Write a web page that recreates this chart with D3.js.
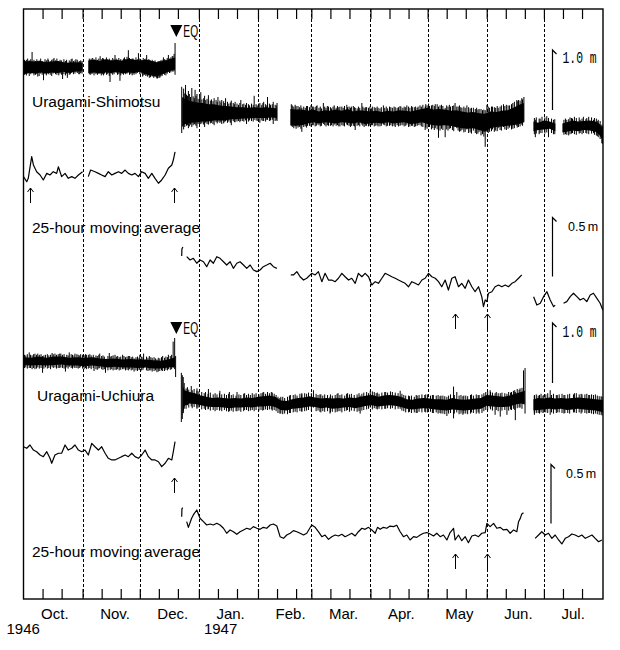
<!DOCTYPE html>
<html><head><meta charset="utf-8">
<script src="https://cdn.jsdelivr.net/npm/d3@7"></script>
<style>body{margin:0;background:#fff} svg{display:block}</style>
</head><body><svg id="c" width="620" height="650"></svg>
<script>
// ---- DATA (day = days since 1 Oct 1946, values in cm) ----
const monthLabels = ["Oct.","Nov.","Dec.","Jan.","Feb.","Mar.","Apr.","May","Jun.","Jul."];
const yearLabels = ["1946","1947"];
const stationNames = ["Uragami-Shimotsu","Uragami-Uchiura"];
const maLabel = "25-hour moving average";
const eqDay = 80.18; // 21 Dec 1946 04:19
const arrowDaysUpper = [3.4, 78.7];
const arrowDaysMid = [226.2, 243.0];
const arrowDaysLower = [78.7];
const arrowDaysBottom = [226.2, 243.0];

// Shimotsu hourly record: core band [day, high, low] per segment
const shimotsuRawCore = [
 [[0,8,-11],[3,10,-10],[6,9,-11],[9,10,-9],[12,8,-11],[15,9,-9],[18,10,-10],[21,8,-8],[24,7,-10],[27,8,-8],[31,7,-7]],
 [[34,11,-10],[37,12,-9],[40,10,-11],[43,13,-9],[46,11,-10],[49,12,-8],[52,10,-11],[55,14,-9],[58,12,-10],[61,11,-8],[64,12,-12],[67,10,-14],[70,8,-16],[73,10,-12],[76,12,-8],[79.5,16,-4]],
 [[83.2,-50,-100],[85,-54,-94],[88,-57,-93],[91,-59,-92],[94,-60,-91],[97,-62,-91],[100,-62,-89],[103,-64,-89],[106,-65,-89],[109,-66,-87],[112,-67,-87],[115,-67,-86],[118,-68,-86],[121,-67,-85],[124,-68,-85],[127,-67,-85],[130,-68,-84],[133,-69,-85]],
 [[140,-70,-97],[143,-71,-98],[146,-71,-97],[149,-73,-94],[152,-71,-92],[155,-74,-94],[158,-72,-92],[161,-73,-93],[164,-71,-94],[167,-73,-92],[170,-70,-93],[173,-74,-94],[176,-72,-92],[179,-73,-95],[182,-74,-94],[185,-73,-93],[188,-75,-94],[191,-73,-92],[194,-74,-94],[197,-72,-93],[200,-73,-92],[203,-74,-95],[206,-72,-94],[209,-70,-92],[212,-68,-95],[215,-71,-97],[218,-70,-98],[221,-71,-97],[224,-73,-98],[227,-72,-100],[230,-74,-102],[233,-76,-103],[236,-75,-102],[239,-77,-105],[242,-78,-108],[245,-74,-102],[248,-75,-100],[251,-73,-99],[254,-72,-98],[257,-68,-97],[260,-63,-95],[262.5,-60,-92]],
 [[267.5,-91,-107],[270,-93,-105],[273,-89,-104],[276,-91,-103],[279,-94,-107]],
 [[282.7,-94,-109],[285,-92,-108],[288,-89,-106],[291,-91,-107],[294,-90,-105],[297,-89,-106],[300,-91,-108],[302,-94,-113],[304,-102,-123]]
];
// Shimotsu isolated spikes [day, top, bottom]
const shimotsuSpikes = [
 [1.5,12,-14],[4.5,25,-5],[7.5,10,-16],[10.5,2,-22],[13,12,-12],[16,15,-10],[20.5,2,-20],[23,4,-18],[25.5,14,-6],[27.5,13,-4],[29.5,10,-12],
 [35.5,14,-12],[40.2,18,-6],[42,14,-14],[45.4,4,-25],[48,20,-4],[50.6,2,-23],[53,16,-8],[55,28,-2],[57,14,-14],[60.3,23,-4],[62.5,10,-16],[64.6,20,-6],[66,12,-18],[69.9,4,-19],[71.5,10,-18],[73.4,16,-10],[76,20,-8],[78,18,-6],[79.5,40,-13],
 [83,-33,-110],[84,-36,-104],[85,-30,-95],[86.5,-40,-102],[88.3,-35,-100],[90,-38,-96],[91,-45,-102],[93,-42,-95],[95,-48,-100],[97,-47,-96],[100,-52,-97],[102,-50,-92],[104,-55,-95],[106,-52,-90],[109,-56,-97],[111,-58,-92],[114,-55,-90],[117,-60,-95],[121,-48,-88],[124,-60,-93],[126,-58,-90],[128,-50,-88],[131,-58,-95],[133,-60,-90],
 [140.5,-62,-98],[143,-65,-103],[146,-68,-108],[149,-65,-98],[152,-66,-97],[154,-64,-96],[157.3,-60,-95],[160,-66,-98],[163,-64,-96],[166,-66,-99],[169.6,-63,-96],[172,-66,-98],[174,-68,-105],[177.5,-60,-96],[180,-67,-98],[183,-66,-97],[186,-68,-99],[188.8,-64,-96],[192,-66,-98],[195,-67,-100],[198,-66,-97],[201.1,-64,-96],[204,-67,-98],[207,-66,-97],[210.7,-66,-105],[213,-65,-100],[216,-62,-102],[217.7,-66,-118],[221.2,-68,-117],[224,-66,-102],[226.4,-60,-100],[227.3,-66,-102],[230,-68,-105],[232.6,-64,-104],[236,-68,-106],[239,-70,-108],[242.2,-72,-133],[243.1,-63,-108],[246,-66,-104],[249,-68,-102],[251.8,-62,-100],[255,-64,-101],[258.8,-55,-98],[261.4,-52,-96],[262.5,-50,-92],
 [268.5,-88,-117],[271,-86,-110],[275.4,-85,-117],[278,-88,-112],
 [285,-88,-113],[288,-86,-110],[292,-88,-110],[295,-87,-110],[299,-88,-110],[301,-90,-115],[303.4,-96,-127]
];
// Shimotsu ragged band edge (short tidal excursions) [day, top, bottom]
const shimotsuFringe = [
 [0.5,12,-13],[1,10,-12],[2.2,14,-11],[3,11,-15],[3.8,13,-12],[5.5,12,-14],[6.3,10,-13],[7,13,-12],[8.2,11,-15],[9,14,-11],[9.8,10,-13],[11.3,13,-12],[12,11,-14],[12.8,14,-10],[14,10,-13],[14.8,12,-15],[15.5,13,-11],[16.8,11,-12],[17.5,14,-13],[18.5,10,-14],[19.2,12,-11],[20,11,-13],[21.2,13,-12],[22,10,-14],[22.6,12,-11],[24,11,-13],[24.6,9,-12],[25,13,-10],[26.2,10,-12],[27,11,-11],[28.2,12,-10],[29,9,-12],[30,11,-10],[30.7,10,-11],
 [34.5,14,-12],[35,12,-13],[36.3,15,-11],[37,13,-14],[38,16,-12],[38.8,12,-13],[39.5,14,-11],[40.8,13,-14],[41.5,15,-12],[42.5,12,-11],[43.5,16,-13],[44.2,13,-12],[45,14,-15],[46,12,-11],[46.8,15,-13],[47.5,13,-12],[48.6,14,-10],[49.3,12,-13],[50,15,-12],[51,13,-14],[51.8,12,-11],[52.5,14,-13],[53.6,13,-12],[54.3,17,-11],[55.6,15,-13],[56.3,13,-12],[57.5,14,-11],[58,12,-13],[59,16,-12],[59.7,13,-10],[61,14,-12],[61.7,12,-11],[62.8,15,-14],[63.5,13,-13],[64.2,14,-15],[65,12,-16],[65.7,13,-14],[66.6,11,-17],[67.5,12,-16],[68.3,10,-18],[69,11,-17],[70.3,9,-19],[71,10,-18],[72,11,-16],[72.7,12,-15],[74,13,-13],[74.7,12,-14],[75.4,15,-11],[76.6,14,-10],[77.3,16,-9],[78.4,18,-8],[79,22,-7],
 [84.6,-44,-100],[85.5,-46,-98],[86,-48,-97],[87,-45,-99],[87.6,-50,-96],[89,-49,-97],[89.6,-52,-95],[90.5,-48,-98],[91.6,-53,-95],[92.4,-50,-96],[93.6,-54,-94],[94.5,-52,-96],[95.6,-55,-93],[96.3,-53,-95],[98,-56,-94],[98.6,-54,-93],[99.4,-57,-95],[101,-55,-92],[101.6,-58,-94],[103,-56,-93],[103.6,-59,-92],[105,-57,-94],[105.6,-60,-92],[107,-58,-93],[107.7,-61,-91],[108.5,-59,-93],[110,-60,-90],[110.6,-62,-92],[112,-61,-91],[112.8,-63,-90],[113.5,-60,-92],[115,-62,-90],[115.6,-61,-91],[116.5,-63,-89],[118,-62,-91],[118.6,-64,-89],[119.6,-61,-90],[120.5,-63,-91],[122,-62,-89],[122.6,-64,-90],[123.4,-61,-91],[125,-63,-89],[125.6,-60,-90],[127,-62,-91],[127.6,-64,-88],[129,-61,-90],[129.6,-63,-89],[130.5,-62,-88],[132,-63,-90],[132.6,-64,-88],
 [141,-64,-100],[141.8,-66,-102],[142.5,-63,-99],[144,-65,-101],[144.7,-67,-100],[145.5,-64,-103],[147,-66,-100],[147.8,-68,-99],[148.5,-65,-101],[150,-67,-98],[150.8,-64,-99],[151.5,-66,-97],[153,-67,-99],[153.6,-65,-98],[155,-68,-97],[155.7,-66,-99],[156.3,-69,-98],[158,-66,-97],[158.7,-68,-99],[159.4,-65,-97],[161,-67,-98],[161.6,-69,-97],[162.4,-66,-99],[164,-68,-98],[164.7,-65,-97],[165.4,-67,-99],[167,-66,-97],[167.7,-68,-98],[168.4,-65,-99],[170,-67,-97],[170.8,-66,-98],[171.5,-68,-100],[173,-65,-98],[173.6,-67,-99],[175,-69,-98],[175.7,-66,-97],[176.4,-68,-99],[178,-66,-98],[178.7,-68,-100],[179.5,-67,-98],[181,-68,-99],[181.7,-66,-98],[182.5,-69,-97],[184,-67,-99],[184.8,-68,-98],[185.5,-66,-97],[187,-69,-99],[187.7,-67,-98],[189.5,-68,-97],[190.3,-66,-99],[191,-69,-98],[192.7,-67,-97],[193.5,-68,-99],[194.4,-66,-98],[196,-68,-97],[196.7,-67,-99],[197.5,-65,-98],[199,-68,-97],[199.7,-66,-99],[200.5,-67,-98],[202,-66,-100],[202.7,-68,-99],[203.6,-65,-98],[205,-67,-100],[205.7,-66,-99],[206.5,-68,-98],[208,-64,-97],[208.7,-66,-99],[209.5,-63,-100],[211,-62,-101],[211.7,-64,-103],[212.5,-61,-100],[214,-64,-104],[214.7,-63,-102],[215.5,-65,-105],[217,-62,-104],[218.5,-64,-106],[219.3,-63,-103],[220,-65,-105],[222,-64,-104],[222.7,-66,-106],[223.4,-63,-103],[225,-65,-105],[225.7,-64,-107],[228,-66,-106],[228.7,-64,-108],[229.4,-67,-107],[231,-66,-109],[231.7,-68,-108],[233.5,-67,-110],[234.3,-69,-109],[235,-68,-111],[237,-70,-110],[237.7,-68,-112],[238.4,-71,-111],[240,-70,-114],[240.8,-72,-112],[241.5,-71,-116],[243.8,-66,-110],[244.5,-68,-108],[245.5,-66,-107],[247,-67,-108],[247.7,-68,-106],[248.5,-65,-107],[250,-66,-105],[250.7,-64,-106],[252.5,-65,-104],[253.3,-63,-105],[254.2,-64,-103],[256,-62,-104],[256.7,-60,-103],[257.5,-58,-102],[259,-57,-101],[259.7,-55,-100],[260.5,-56,-99],[261.8,-54,-98],
 [268,-85,-112],[269,-84,-111],[270.5,-86,-112],[272,-83,-110],[273.5,-84,-111],[274.5,-82,-109],[277,-86,-110],[278.7,-87,-112],
 [283.5,-88,-113],[284.3,-86,-112],[286,-87,-114],[286.7,-84,-112],[287.5,-85,-111],[289,-83,-112],[290,-85,-113],[291.5,-84,-111],[293,-86,-112],[293.7,-83,-110],[295.5,-85,-111],[296.5,-83,-112],[298,-84,-111],[299.5,-85,-113],[300.5,-86,-114],[301.5,-88,-117],[302.5,-90,-120],[303.7,-98,-128]
];
// Shimotsu 25-hour moving average [day, cm]
const shimotsuMA = [
 [[0,-3.1],[1.7,-7.4],[2.5,-4.5],[4.3,13.8],[5.2,6.8],[6.9,1.1],[8.7,-1.7],[10.4,-5.9],[12.2,-0.3],[13.9,-1.7],[15.6,1.1],[17.4,-0.3],[18.3,5.3],[20,-3.1],[21.8,-0.3],[23.5,-4.5],[25.3,-3.1],[27,-4.5],[28.8,-1.7],[31,1.1]],
 [[34,-3.1],[35.2,2.5],[37.5,1.1],[39.3,-0.3],[41,-1.7],[42.8,-3.1],[44.5,1.1],[46.3,-1.7],[48,-0.3],[49.8,1.1],[51.5,-0.3],[53.3,2.5],[55,-0.3],[56.8,-1.7],[58.5,-0.3],[60.3,-3.1],[62,1.1],[63.8,-0.3],[65.5,-4.5],[67.3,-0.3],[69,-4.5],[70.8,-8.7],[72.5,-5.9],[74.3,-1.7],[76,4],[77.8,6.8],[78.6,11],[79.5,18]],
 [[83,-70.3],[83.1,-64.4],[83.6,-62.7]],
 [[85.6,-70.9],[87.4,-73.7],[89.1,-72.3],[90.9,-76.5],[92.6,-73.7],[94.4,-75.2],[96.1,-79.4],[97.9,-73.7],[99.6,-76.5],[101.4,-70.9],[103.1,-72.3],[104.9,-75.2],[106.6,-78],[108.4,-75.2],[110.1,-80.8],[111.9,-76.5],[113.6,-75.2],[115.4,-78],[117.1,-80.8],[118.9,-78],[120.6,-82.2],[122.4,-83.6],[124.1,-82.2],[125.8,-79.4],[127.6,-78],[129.4,-76.5],[131.1,-79.4],[132.9,-80.8]],
 [[140.2,-86.4],[141.6,-86.4],[143.4,-83.6],[145.1,-87.9],[146.9,-90.7],[148.6,-89.2],[151.2,-85],[153,-86.4],[154.7,-83.6],[156.5,-92.1],[158.2,-85],[160,-90.7],[161.7,-90.7],[163.5,-92.1],[165.2,-89.2],[167,-85],[168.7,-87.9],[170.5,-90.7],[172.2,-89.2],[174,-93.5],[175.7,-85],[177.5,-87.9],[179.2,-85],[181,-87.9],[182.7,-94.9],[184.5,-92.1],[186.2,-93.5],[188,-89.2],[189.7,-85],[191.5,-86.4],[193.2,-87.9],[195,-89.2],[196.7,-90.7],[198.5,-92.1],[200.2,-93.5],[202,-96.4],[203.7,-92.1],[205.5,-93.5],[207.2,-94.9],[209,-90.7],[210.7,-89.2],[212.5,-85],[214.2,-87.9],[216,-89.2],[217.7,-92.1],[219.4,-96.4],[221.2,-90.7],[222.9,-99.2],[224.7,-89.2],[226.4,-87.9],[228.2,-96.4],[229.9,-93.5],[231.7,-97.7],[233.4,-90.7],[235.2,-96.4],[236.9,-100.6],[238.7,-96.4],[240.4,-104.8],[241.3,-113.3],[242.2,-107.6],[243.1,-109],[243.9,-101.9],[245.7,-100.6],[247.4,-96.4],[249.2,-94.9],[250.9,-96.4],[252.7,-94.9],[254.4,-96.4],[256.2,-93.5],[257.9,-92.1],[259.7,-89.2],[261.4,-86.4]],
 [[267.6,-104.8],[269.3,-111.9],[271.1,-110.4],[272.8,-104.8],[274.6,-100.6],[276.3,-107.6],[278.1,-113.3],[278.9,-111.9]],
 [[283.3,-110.4],[285,-109],[286.8,-104.8],[288.5,-101.9],[290.3,-104.8],[292,-107.6],[293.8,-106.2],[295.5,-109],[297.3,-103.4],[299,-101.9],[300.8,-106.2],[302.5,-110.4],[303.9,-116.1]]
];
// Uchiura hourly record core band [day, high, low]
const uchiuraRawCore = [
 [[0,8,-5],[4,7,-6],[8,9,-5],[12,7,-6],[16,9,-5],[20,9,-4],[24,7,-6],[28,8,-6],[32,7,-7],[36,8,-6],[40,6,-7],[44,5,-9],[48,6,-8],[52,4,-9],[56,5,-9],[60,4,-10],[64,4,-9],[68,3,-11],[72,2,-11],[76,4,-9],[79.5,8,-8]],
 [[83.5,-40,-90],[84.5,-47,-73],[87,-50,-69],[90,-52,-70],[93,-56,-72],[96,-58,-74],[99,-60,-75],[102,-59,-75],[105,-60,-76],[108,-61,-77],[111,-60,-76],[114,-61,-76],[117,-59,-75],[120,-60,-76],[123,-58,-74],[126,-57,-74],[129,-56,-73],[132,-58,-75],[135,-64,-80],[138,-65,-81],[141,-62,-78],[144,-60,-77],[147,-59,-76],[150,-57,-74],[153,-59,-75],[156,-61,-77],[159,-60,-76],[162,-61,-78],[165,-60,-77],[168,-61,-76],[171,-59,-75],[174,-60,-77],[177,-58,-75],[180,-56,-73],[183,-55,-72],[186,-58,-74],[189,-56,-73],[192,-55,-72],[195,-56,-73],[198,-58,-75],[201,-62,-78],[204,-63,-79],[207,-61,-78],[210,-60,-77],[213,-61,-78],[216,-62,-79],[219,-62,-80],[222,-63,-81],[225,-60,-79],[228,-62,-80],[231,-63,-81],[234,-62,-80],[237,-61,-79],[240,-60,-78],[243,-55,-73],[246,-56,-74],[249,-57,-75],[252,-58,-75],[255,-56,-74],[258,-53,-71],[261,-50,-69],[263,-48,-71]],
 [[267.5,-62,-81],[270,-60,-80],[273,-61,-79],[276,-59,-78],[279,-61,-79],[282,-60,-78],[285,-61,-80],[288,-60,-79],[291,-59,-78],[294,-60,-79],[297,-61,-80],[300,-62,-81],[303,-63,-83],[304,-64,-84]]
];
const uchiuraSpikes = [
 [3,16,-10],[6,14,-12],[10,10,-18],[15,15,-8],[19,14,-10],[22,6,-16],[24,16,-8],[27,14,-10],[30,13,-8],[33,12,-12],[37,8,-15],[40,14,-10],[43,4,-18],[45,15,-6],[48,12,-13],[52,12,-12],[55,10,-14],[58,6,-16],[61,12,-13],[63,14,-10],[66,10,-14],[70,4,-17],[73,10,-15],[76,12,-12],[78.5,34,-10],[79.3,40,-12],[79.8,10,-25],
 [82.8,-18,-100],[83.3,-22,-95],[83.8,-25,-85],[84.3,-35,-78],[86,-42,-72],[88,-40,-74],[91,-44,-76],[97,-45,-78],[103,-48,-80],[108,-50,-82],[112,-50,-82],[116,-52,-80],[120,-52,-80],[126,-50,-80],[130,-50,-79],[135,-58,-86],[140,-55,-85],[146,-52,-82],[152.1,-47,-76],[156,-54,-84],[160.8,-58,-86],[165,-52,-82],[170,-52,-80],[176.6,-56,-86],[181.9,-48,-76],[185,-52,-78],[190,-50,-78],[197.6,-48,-78],[202,-56,-84],[206,-55,-85],[211,-54,-84],[215,-55,-85],[219,-56,-86],[222.1,-58,-90],[225.6,-41,-94],[227.3,-50,-84],[231,-56,-86],[235,-54,-84],[239,-55,-86],[244.8,-47,-76],[247.4,-52,-88],[250.1,-52,-91],[253.6,-53,-88],[256,-50,-80],[258,-50,-97],[260,-46,-76],[262.3,-14,-70],[263.1,-10,-86],
 [268,-56,-88],[270,-56,-85],[273,-55,-84],[276.3,-47,-88],[280,-55,-84],[284,-55,-85],[289,-52,-84],[293,-54,-84],[297,-55,-85],[300,-54,-86],[303,-57,-88]
];
const uchiuraFringe = [
 [0.5,12,-10],[1.2,11,-9],[2,13,-11],[3.7,12,-10],[4.5,11,-12],[5.3,13,-10],[6.8,12,-11],[7.5,14,-9],[8.3,12,-11],[9.2,13,-10],[10.7,11,-11],[11.5,12,-9],[12.5,13,-11],[13.3,11,-10],[14.2,12,-12],[15.6,13,-10],[16.5,14,-9],[17.3,12,-11],[18.2,13,-10],[19.6,14,-9],[20.5,12,-10],[21.3,13,-11],[22.7,12,-9],[23.4,11,-11],[25,13,-10],[25.7,12,-11],[26.5,11,-9],[28,13,-10],[28.7,12,-11],[29.5,11,-10],[31,12,-11],[31.8,11,-12],[32.5,13,-10],[34,12,-11],[34.8,13,-10],[35.5,11,-12],[36.6,12,-10],[38,11,-12],[38.7,10,-13],[39.5,12,-11],[41,10,-12],[41.7,11,-13],[42.4,9,-12],[44.3,10,-14],[45.5,9,-13],[46.3,10,-12],[47,11,-14],[48.7,9,-13],[49.4,10,-12],[50.2,8,-14],[51,9,-13],[52.7,10,-12],[53.5,8,-14],[54.3,9,-13],[55.7,10,-12],[56.5,8,-14],[57.3,9,-13],[59,8,-14],[59.8,9,-15],[60.6,7,-13],[62,9,-14],[62.7,8,-13],[64.5,9,-14],[65.3,7,-15],[66.8,8,-14],[67.5,7,-16],[68.5,8,-15],[69.3,6,-14],[70.7,7,-16],[71.5,6,-15],[72.4,8,-14],[74,7,-15],[74.7,9,-13],[75.5,8,-14],[77,10,-13],[77.7,12,-12],
 [85.3,-44,-78],[86.7,-46,-76],[88.5,-47,-77],[89.5,-45,-75],[91,-48,-78],[92,-49,-76],[93.5,-50,-79],[94.8,-52,-78],[95.5,-50,-80],[96.8,-53,-79],[98,-51,-81],[99.5,-54,-80],[100.5,-52,-82],[101.5,-54,-80],[102.8,-52,-81],[104,-54,-82],[105.4,-53,-80],[106.5,-55,-82],[107.6,-53,-83],[109,-55,-81],[110,-54,-83],[111.5,-56,-82],[113,-54,-81],[114,-55,-83],[115.5,-53,-82],[117,-55,-80],[118,-53,-82],[119,-55,-81],[121,-54,-82],[122,-52,-80],[123.5,-54,-81],[124.6,-52,-80],[125.5,-51,-81],[127,-53,-79],[128,-50,-80],[129,-52,-79],[130.5,-51,-81],[131.5,-53,-80],[132.5,-55,-82],[133.5,-58,-85],[134.5,-60,-86],[136,-58,-87],[137,-60,-86],[138.5,-58,-87],[139.5,-56,-85],[141.5,-55,-84],[142.5,-54,-83],[143.5,-56,-84],[145,-53,-82],[146,-54,-83],[147.5,-52,-82],[148.5,-53,-81],[149.5,-51,-80],[151,-52,-81],[153.5,-53,-82],[154.5,-55,-81],[155.5,-54,-83],[157,-56,-82],[158,-54,-83],[159.5,-55,-82],[161,-54,-84],[162,-56,-83],[163.5,-55,-84],[164.5,-53,-83],[166,-55,-82],[167,-54,-84],[168.5,-56,-82],[169.5,-53,-81],[171,-54,-83],[172,-53,-81],[173.5,-55,-82],[175,-54,-83],[176,-52,-82],[177.5,-53,-81],[178.5,-51,-80],[180,-50,-79],[181,-52,-78],[183,-49,-79],[184,-50,-77],[185.6,-51,-79],[186.5,-53,-78],[188,-51,-79],[189.5,-50,-78],[191,-51,-77],[192.5,-49,-78],[193.5,-50,-77],[195,-51,-79],[196.5,-52,-78],[198.5,-53,-81],[199.5,-55,-82],[200.5,-56,-84],[202.5,-57,-83],[203.5,-56,-85],[205,-58,-84],[206.5,-56,-85],[207.5,-55,-83],[209,-54,-84],[210.5,-55,-83],[212,-54,-84],[213.5,-56,-83],[214.5,-55,-85],[216.5,-56,-84],[217.5,-55,-86],[218.5,-57,-85],[220,-56,-86],[221,-57,-87],[223,-56,-86],[224,-54,-85],[226,-55,-86],[228.5,-56,-87],[229.5,-55,-86],[230.5,-57,-88],[232,-56,-86],[233,-57,-87],[234.5,-55,-86],[236,-56,-85],[237.5,-54,-86],[238.5,-55,-84],[240.5,-54,-85],[241.5,-52,-82],[242.5,-50,-80],[243.5,-49,-80],[245,-50,-79],[246,-51,-81],[248,-50,-80],[249,-52,-82],[251,-51,-81],[252.5,-52,-80],[254.5,-50,-81],[255.5,-51,-79],[257,-48,-78],[257.7,-47,-80],[259,-45,-77],[260.5,-44,-76],[261.5,-43,-78],
 [268,-55,-86],[269,-54,-85],[270.7,-55,-86],[271.5,-53,-84],[272.5,-56,-85],[274,-54,-84],[275,-52,-85],[277,-55,-84],[278,-53,-86],[279.5,-55,-85],[281,-54,-84],[282.5,-53,-85],[283.5,-55,-86],[285.5,-54,-85],[286.5,-53,-86],[288.5,-54,-84],[290,-52,-85],[291.5,-54,-84],[292.5,-53,-86],[294.5,-54,-85],[295.5,-53,-86],[296.5,-55,-85],[298,-54,-86],[299,-55,-87],[301,-56,-87],[302,-57,-88],[303.5,-58,-89]
];
const uchiuraMA = [
 [[0,3.6],[1.7,2.3],[3.4,5.1],[5.2,0.8],[6.9,-0.6],[8.7,-3.4],[10.4,-4.8],[12.2,-0.6],[13.9,-6.2],[14.8,-10.4],[16.5,-3.4],[18.3,-1.9],[20,-1.9],[21.8,5.1],[23.5,0.8],[25.3,2.3],[27,5.1],[28.8,0.8],[30.5,-0.6],[32.3,0.8],[34,-3.4],[35.8,6.5],[37.5,3.6],[39.3,0.8],[41,3.6],[42.8,-1.9],[44.5,-6.2],[46.3,-7.6],[48,-7.6],[49.8,-6.2],[51.5,-4.8],[53.3,-3.4],[55,-4.8],[56.8,-1.9],[58.5,-4.8],[60.3,-6.2],[62,-3.4],[63.8,0.8],[65.5,-4.8],[67.3,-7.6],[69,-7.6],[70.8,-9.1],[72.5,-13.3],[74.3,-10.4],[76,-6.2],[77.8,-7.6],[78.6,-0.6],[79.5,7.9]],
 [[83,-55.7],[83.1,-49],[83.5,-48]],
 [[85.6,-59.9],[86.5,-64.7],[88.2,-57],[89.1,-54.2],[90.9,-50],[92.6,-57],[94.4,-59.9],[96.1,-62.7],[97.9,-61.9],[99.6,-62.7],[101.4,-61.3],[103.1,-62.7],[104.9,-65.5],[106.6,-69.7],[108.4,-66.9],[110.1,-68.4],[111.9,-70.6],[113.6,-68.4],[115.4,-66.9],[117.1,-65.5],[118.9,-66.4],[120.6,-64.1],[122.4,-65.5],[124.1,-66.4],[125.8,-64.7],[127.6,-65.5],[129.4,-62.7],[131.1,-61.9],[132.9,-63.6],[134.6,-72.6],[136.4,-74],[138.1,-71.2],[139.9,-69.7],[141.6,-67.5],[143.4,-68.4],[145.1,-69.7],[146.9,-71.2],[148.6,-69.7],[151.2,-62.7],[153,-64.7],[154.7,-68.4],[156.5,-72.6],[158.2,-71.2],[160,-74.9],[161.7,-72.6],[163.5,-71.2],[165.2,-72],[167,-70.6],[168.7,-72.6],[170.5,-71.2],[172.2,-69.7],[174,-72],[175.7,-68.4],[177.5,-65.5],[179.2,-66.4],[181,-64.7],[182.7,-66.9],[184.5,-69.7],[185.7,-64.7],[187.1,-66.4],[188.8,-64.7],[190.6,-65.5],[192.3,-63.6],[194.1,-64.1],[195.8,-62.9],[197.6,-68.4],[199.3,-72.6],[201.1,-71.2],[202.8,-75.4],[204.6,-72.6],[206.3,-73.2],[208.1,-71.2],[209.8,-69.7],[211.6,-69.1],[213.3,-70.3],[215.1,-72],[216.8,-69.7],[218.6,-72.6],[220.3,-71.2],[222.1,-75.4],[223.8,-69.1],[225.6,-65.5],[226.4,-75.4],[228.2,-71.2],[229.9,-76],[231.7,-72.6],[233.4,-77.7],[235.2,-72],[236.9,-71.2],[238.7,-72.6],[240.4,-69.7],[242.2,-69.1],[243.1,-61.3],[244.8,-64.1],[246.6,-61.3],[248.3,-65.5],[250.1,-64.7],[251.8,-66.9],[253.6,-66.4],[255.3,-69.7],[257.1,-66.9],[258.8,-68.4],[259.7,-59.9],[260.6,-57.1],[261.4,-53.4],[262.3,-52.3]],
 [[268.4,-74],[270.2,-71.2],[271.9,-68.4],[273.7,-71.2],[275.4,-69.7],[277.2,-74],[278.9,-71.2],[280.7,-75.4],[282.4,-78.8],[284.2,-74],[285.9,-72.6],[287.7,-70.3],[289.4,-71.2],[291.2,-72.6],[292.9,-71.2],[294.7,-74],[296.4,-72.6],[298.2,-71.2],[299.9,-74],[301.7,-76.9],[303.4,-75.4]]
];

// ---- DRAWING ----
const svg = d3.select("#c");
const t0 = Date.UTC(1946, 9, 1);
const dayDate = d => new Date(t0 + d * 864e5);
const x = d3.scaleUtc().domain([new Date(t0), new Date(Date.UTC(1947, 7, 1))]).range([23.5, 603]);
const X = d => x(dayDate(d));
const yRawS = d3.scaleLinear().domain([0, -100]).range([67, 127]);
const yMaS  = d3.scaleLinear().domain([0, -100]).range([173, 291]);
const yRawU = d3.scaleLinear().domain([0, -100]).range([362, 422]);
const yMaU  = d3.scaleLinear().domain([0, -100]).range([451, 569]);
const frameTop = 9, frameBottom = 599;

// month dashed lines
const monthStarts = d3.utcMonth.range(new Date(Date.UTC(1946,10,1)), new Date(Date.UTC(1947,7,1)));
svg.append("g").selectAll("line").data(monthStarts).join("line")
  .attr("x1", d => Math.round(x(d)) + 0.5).attr("x2", d => Math.round(x(d)) + 0.5)
  .attr("y1", frameTop).attr("y2", frameBottom)
  .attr("stroke", "#000").attr("stroke-width", 1).attr("stroke-dasharray", "3,2");

// ticks
const allMonths = d3.utcMonth.range(new Date(t0), new Date(Date.UTC(1947,7,1)));
const tickDates = allMonths.flatMap(m => [1, 11, 21].map(dd => new Date(Date.UTC(m.getUTCFullYear(), m.getUTCMonth(), dd)))).filter(d => +d > t0);
const axT = svg.append("g").attr("transform", `translate(0,${frameTop})`)
  .call(d3.axisTop(x).tickValues(tickDates).tickSize(-10).tickFormat(""));
const axB = svg.append("g").attr("transform", `translate(0,${frameBottom})`)
  .call(d3.axisBottom(x).tickValues(tickDates).tickSize(-10).tickFormat(""));
[axT, axB].forEach(a => { a.select(".domain").remove(); a.selectAll("line").attr("stroke", "#000").attr("stroke-width", 1.2); });

// frame
svg.append("rect").attr("x", 23.5).attr("y", frameTop).attr("width", 603 - 23.5).attr("height", frameBottom - frameTop)
  .attr("fill", "none").attr("stroke", "#000").attr("stroke-width", 1.4);

// raw records
function drawRaw(core, spikes, fringe, y) {
  const area = d3.area().x(d => X(d[0])).y0(d => y(d[2])).y1(d => y(d[1]));
  svg.append("g").selectAll("path").data(core).join("path")
    .attr("d", area).attr("fill", "#000");
  svg.append("g").selectAll("line").data(fringe.concat(spikes)).join("line")
    .attr("x1", d => X(d[0])).attr("x2", d => X(d[0]))
    .attr("y1", d => y(d[1])).attr("y2", d => y(d[2]))
    .attr("stroke", "#000").attr("stroke-width", 1);
}
function drawMA(segs, y) {
  const line = d3.line().x(d => X(d[0])).y(d => y(d[1]));
  svg.append("g").selectAll("path").data(segs).join("path")
    .attr("d", line).attr("fill", "none").attr("stroke", "#000")
    .attr("stroke-width", 1.2).attr("stroke-linejoin", "round");
}
drawRaw(shimotsuRawCore, shimotsuSpikes, shimotsuFringe, yRawS);
drawMA(shimotsuMA, yMaS);
drawRaw(uchiuraRawCore, uchiuraSpikes, uchiuraFringe, yRawU);
drawMA(uchiuraMA, yMaU);

// EQ markers
function eqMark(tipY) {
  const ex = X(eqDay);
  svg.append("path").attr("d", `M${ex - 6},${tipY - 12}L${ex + 6},${tipY - 12}L${ex},${tipY}Z`).attr("fill", "#000");
  svg.append("text").attr("transform", `translate(${ex + 7},${tipY}) scale(0.64,1)`)
    .attr("font-family", "Liberation Sans, Arial, sans-serif").attr("font-size", 16).text("EQ");
}
eqMark(37); eqMark(334);

// arrows
function arrows(days, yTop) {
  days.forEach(d => {
    const ax = Math.round(X(d)) + 0.5;
    svg.append("path").attr("d", `M${ax},${yTop + 15}V${yTop}M${ax - 3},${yTop + 4}L${ax},${yTop}L${ax + 3},${yTop + 4}`)
      .attr("fill", "none").attr("stroke", "#000").attr("stroke-width", 1);
  });
}
arrows(arrowDaysUpper, 188); arrows(arrowDaysMid, 314); arrows(arrowDaysLower, 478); arrows(arrowDaysBottom, 554);

// scale bars
function scaleBar(bx, yTop, yScale, cm, label, tx, ty, mono) {
  const len = yScale(-cm) - yScale(0);
  svg.append("path").attr("d", `M${bx},${yTop + len}V${yTop}L${bx + 4},${yTop + 4}`)
    .attr("fill", "none").attr("stroke", "#000").attr("stroke-width", 1.2);
  const t = svg.append("text").attr("font-size", mono ? 12 : 12.5)
    .attr("font-family", mono ? "Liberation Mono, monospace" : "Liberation Sans, Arial, sans-serif")
    .text(label);
  t.attr("transform", mono ? `translate(${tx},${ty}) scale(0.95,1.3)` : `translate(${tx},${ty}) scale(1,1.05)`);
}
scaleBar(552.5, 50, yRawS, 100, "1.0 m", 562.5, 63, true);
scaleBar(552.5, 217.5, yMaS, 50, "0.5\u2009m", 568, 231, false);
scaleBar(552.5, 323, yRawU, 100, "1.0 m", 562.5, 337, true);
scaleBar(551, 464.5, yMaU, 50, "0.5\u2009m", 566, 478, false);

// labels
const lab = (txt, lx, ly, fs) => svg.append("text").attr("x", lx).attr("y", ly)
  .attr("font-family", "Liberation Sans, Arial, sans-serif").attr("font-size", fs || 15.5).text(txt);
lab(stationNames[0], 32, 106.5);
lab(maLabel, 32, 233);
lab(stationNames[1], 37, 400.5);
lab(maLabel, 32, 557);

// month and year labels
svg.append("g").selectAll("text").data(allMonths).join("text")
  .attr("x", (d) => x(new Date(Date.UTC(d.getUTCFullYear(), d.getUTCMonth(), 11))) - 1.5)
  .attr("y", 619).attr("font-family", "Liberation Sans, Arial, sans-serif").attr("font-size", 15)
  .text((d, i) => monthLabels[i]);
lab(yearLabels[0], x(new Date(t0)) - 17, 634, 15);
lab(yearLabels[1], x(new Date(Date.UTC(1947,0,1))) + 5, 634, 15);
</script></body></html>
